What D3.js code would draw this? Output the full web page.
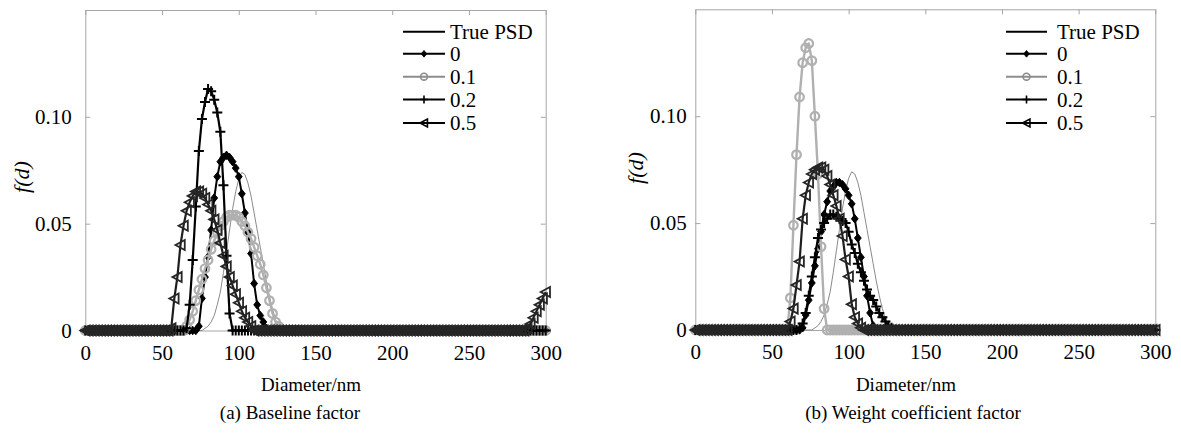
<!DOCTYPE html>
<html><head><meta charset="utf-8">
<script src="https://cdn.jsdelivr.net/npm/d3@7"></script>
<style>body{margin:0;background:#fff}svg{display:block}text{font-family:"Liberation Serif","Times New Roman",serif;fill:#000}</style>
</head><body><svg id="c" width="1181" height="433"></svg>
<script>
// sample grid (nm)
const diameters = d3.range(0, 301, 2);
const seriesNames = ["True PSD", "0", "0.1", "0.2", "0.5"];
const xTicks = [0, 50, 100, 150, 200, 250, 300];
const yTicks = [0, 0.05, 0.10];
const yTickLabels = ["0", "0.05", "0.10"];

// each row = 10 samples (20 nm), last value = 300 nm
const truePSD = [
0,0,0,0,0,0,0,0,0,0,
0,0,0,0,0,0,0,0,0,0,
0,0,0,0,0,0,0,0,0,0,
0,0,0,0,0,0,0,0,0,0.001,
0.002,0.004,0.007,0.012,0.018,0.027,0.037,0.047,0.057,0.065,
0.071,0.074,0.073,0.069,0.063,0.055,0.047,0.039,0.031,0.023,
0.016,0.010,0.005,0.002,0,0,0,0,0,0,
0,0,0,0,0,0,0,0,0,0,
0,0,0,0,0,0,0,0,0,0,
0,0,0,0,0,0,0,0,0,0,
0,0,0,0,0,0,0,0,0,0,
0,0,0,0,0,0,0,0,0,0,
0,0,0,0,0,0,0,0,0,0,
0,0,0,0,0,0,0,0,0,0,
0,0,0,0,0,0,0,0,0,0,
0];

// (a) Baseline factor
const baseline0 = [
0,0,0,0,0,0,0,0,0,0,
0,0,0,0,0,0,0,0,0,0,
0,0,0,0,0,0,0,0,0,0,
0,0,0,0,0,0,0,0.002,0.015,0.025,
0.0345,0.047,0.062,0.072,0.079,0.081,0.082,0.081,0.079,0.076,
0.072,0.064,0.055,0.046,0.036,0.022,0.012,0.007,0.004,0.001,
0,0,0,0,0,0,0,0,0,0,
0,0,0,0,0,0,0,0,0,0,
0,0,0,0,0,0,0,0,0,0,
0,0,0,0,0,0,0,0,0,0,
0,0,0,0,0,0,0,0,0,0,
0,0,0,0,0,0,0,0,0,0,
0,0,0,0,0,0,0,0,0,0,
0,0,0,0,0,0,0,0,0,0,
0,0,0,0,0,0,0,0,0,0,
0];
const baseline01 = [
0,0,0,0,0,0,0,0,0,0,
0,0,0,0,0,0,0,0,0,0,
0,0,0,0,0,0,0,0,0,0,
0,0,0,0.002,0.005,0.009,0.014,0.019,0.024,0.029,
0.033,0.038,0.042,0.046,0.049,0.051,0.053,0.054,0.054,0.054,
0.053,0.051,0.049,0.046,0.043,0.039,0.035,0.031,0.026,0.020,
0.014,0.008,0.004,0.002,0,0,0,0,0,0,
0,0,0,0,0,0,0,0,0,0,
0,0,0,0,0,0,0,0,0,0,
0,0,0,0,0,0,0,0,0,0,
0,0,0,0,0,0,0,0,0,0,
0,0,0,0,0,0,0,0,0,0,
0,0,0,0,0,0,0,0,0,0,
0,0,0,0,0,0,0,0,0,0,
0,0,0,0,0,0,0,0,0,0,
0];
const baseline02 = [
0,0,0,0,0,0,0,0,0,0,
0,0,0,0,0,0,0,0,0,0,
0,0,0,0,0,0,0,0,0,0,
0,0,0,0.001,0.012,0.033,0.058,0.084,0.099,0.107,
0.113,0.112,0.108,0.102,0.093,0.068,0.035,0.008,0,0,
0,0,0,0,0,0,0,0,0,0,
0,0,0,0,0,0,0,0,0,0,
0,0,0,0,0,0,0,0,0,0,
0,0,0,0,0,0,0,0,0,0,
0,0,0,0,0,0,0,0,0,0,
0,0,0,0,0,0,0,0,0,0,
0,0,0,0,0,0,0,0,0,0,
0,0,0,0,0,0,0,0,0,0,
0,0,0,0,0,0,0,0,0,0,
0,0,0,0,0,0,0,0,0,0,
0];
const baseline05 = [
0,0,0,0,0,0,0,0,0,0,
0,0,0,0,0,0,0,0,0,0,
0,0,0,0,0,0,0,0,0.001,0.015,
0.025,0.040,0.049,0.056,0.060,0.063,0.065,0.065,0.064,0.062,
0.059,0.056,0.052,0.047,0.041,0.035,0.030,0.025,0.021,0.017,
0.013,0.009,0.006,0.004,0.002,0,0,0,0,0,
0,0,0,0,0,0,0,0,0,0,
0,0,0,0,0,0,0,0,0,0,
0,0,0,0,0,0,0,0,0,0,
0,0,0,0,0,0,0,0,0,0,
0,0,0,0,0,0,0,0,0,0,
0,0,0,0,0,0,0,0,0,0,
0,0,0,0,0,0,0,0,0,0,
0,0,0,0,0,0,0,0,0,0,
0,0,0,0,0.001,0.003,0.006,0.009,0.012,0.015,
0.018];

// (b) Weight coefficient factor
const weight0 = [
0,0,0,0,0,0,0,0,0,0,
0,0,0,0,0,0,0,0,0,0,
0,0,0,0,0,0,0,0,0,0,
0,0,0,0,0,0.001,0.007,0.014,0.022,0.030,
0.038,0.046,0.054,0.060,0.065,0.067,0.069,0.069,0.068,0.066,
0.063,0.059,0.052,0.043,0.034,0.025,0.016,0.008,0.002,0,
0,0,0,0,0,0,0,0,0,0,
0,0,0,0,0,0,0,0,0,0,
0,0,0,0,0,0,0,0,0,0,
0,0,0,0,0,0,0,0,0,0,
0,0,0,0,0,0,0,0,0,0,
0,0,0,0,0,0,0,0,0,0,
0,0,0,0,0,0,0,0,0,0,
0,0,0,0,0,0,0,0,0,0,
0,0,0,0,0,0,0,0,0,0,
0];
const weight01 = [
0,0,0,0,0,0,0,0,0,0,
0,0,0,0,0,0,0,0,0,0,
0,0,0,0,0,0,0,0,0,0,
0,0.015,0.049,0.082,0.109,0.125,0.132,0.134,0.126,0.100,
0.073,0.039,0.010,0,0,0,0,0,0,0,
0,0,0,0,0,0,0,0,0,0,
0,0,0,0,0,0,0,0,0,0,
0,0,0,0,0,0,0,0,0,0,
0,0,0,0,0,0,0,0,0,0,
0,0,0,0,0,0,0,0,0,0,
0,0,0,0,0,0,0,0,0,0,
0,0,0,0,0,0,0,0,0,0,
0,0,0,0,0,0,0,0,0,0,
0,0,0,0,0,0,0,0,0,0,
0,0,0,0,0,0,0,0,0,0,
0];
const weight02 = [
0,0,0,0,0,0,0,0,0,0,
0,0,0,0,0,0,0,0,0,0,
0,0,0,0,0,0,0,0,0,0,
0,0,0,0,0.001,0.003,0.008,0.016,0.025,0.034,
0.043,0.047,0.050,0.052,0.054,0.054,0.053,0.052,0.051,0.050,
0.046,0.040,0.036,0.031,0.027,0.023,0.019,0.016,0.014,0.011,
0.008,0.006,0.004,0.002,0.001,0,0,0,0,0,
0,0,0,0,0,0,0,0,0,0,
0,0,0,0,0,0,0,0,0,0,
0,0,0,0,0,0,0,0,0,0,
0,0,0,0,0,0,0,0,0,0,
0,0,0,0,0,0,0,0,0,0,
0,0,0,0,0,0,0,0,0,0,
0,0,0,0,0,0,0,0,0,0,
0,0,0,0,0,0,0,0,0,0,
0];
const weight05 = [
0,0,0,0,0,0,0,0,0,0,
0,0,0,0,0,0,0,0,0,0,
0,0,0,0,0,0,0,0,0,0,
0,0.004,0.010,0.021,0.032,0.052,0.063,0.069,0.073,0.075,
0.076,0.076,0.075,0.072,0.068,0.063,0.058,0.052,0.044,0.033,
0.025,0.012,0.006,0.003,0.001,0,0,0,0,0,
0,0,0,0,0,0,0,0,0,0,
0,0,0,0,0,0,0,0,0,0,
0,0,0,0,0,0,0,0,0,0,
0,0,0,0,0,0,0,0,0,0,
0,0,0,0,0,0,0,0,0,0,
0,0,0,0,0,0,0,0,0,0,
0,0,0,0,0,0,0,0,0,0,
0,0,0,0,0,0,0,0,0,0,
0,0,0,0,0,0,0,0,0,0,
0];

const styles = [
  {stroke: "#8a8a8a", width: 1, marker: null, legStroke: "#000", legWidth: 2},
  {stroke: "#000", width: 2, marker: "diamond", mStroke: "#000", mFill: "#000", mw: 1, legStroke: "#000", legWidth: 2},
  {stroke: "#b0b0b0", width: 2.4, marker: "circle", mStroke: "#b0b0b0", mFill: "none", mw: 2.2, legStroke: "#8c8c8c", legWidth: 2},
  {stroke: "#000", width: 2.2, marker: "plus", mStroke: "#000", mFill: "none", mw: 2, legStroke: "#000", legWidth: 2},
  {stroke: "#1e1e1e", width: 2.2, marker: "triangle", mStroke: "#262626", mFill: "none", mw: 1.8, legStroke: "#000", legWidth: 2}
];
const markerPaths = {
  diamond: "M0,-4.2L3.4,0L0,4.2L-3.4,0Z",
  circle: "M-4.3,0A4.3,4.3 0 1,0 4.3,0A4.3,4.3 0 1,0 -4.3,0Z",
  plus: "M-5,0H5M0,-5V5",
  triangle: "M-5,0L4.3,-5L4.3,5Z"
};

const panels = [
  {x0: 85.3, x1: 545.7, y0: 330.5, yTop: 10, series: [truePSD, baseline0, baseline01, baseline02, baseline05],
   yPad: 13.5, ylab: [21, 177], leg: {l0: 403, l1: 445, tx: 450}, xlab: [311, 391], cap: [290, 419, "(a) Baseline factor"]},
  {x0: 695.3, x1: 1155.3, y0: 330, yTop: 9.3, series: [truePSD, weight0, weight01, weight02, weight05],
   yPad: 8.6, ylab: [635, 168], leg: {l0: 1006, l1: 1047, tx: 1057}, xlab: [906, 391], cap: [913, 419, "(b) Weight coefficient factor"]}
];
const legendRows = [31.7, 53.8, 76.7, 99.5, 123];

const svg = d3.select("#c");
const FONT = "Liberation Serif";

panels.forEach(p => {
  const x = d3.scaleLinear().domain([0, 300]).range([p.x0, p.x1]);
  const y = d3.scaleLinear().domain([0, 0.15]).range([p.y0, p.yTop]);
  const g = svg.append("g");

  const styleAxis = (sel) => {
    sel.selectAll(".domain").attr("stroke", "#a6a6a6").attr("stroke-width", 1);
    sel.selectAll(".tick line").attr("stroke", "#a6a6a6").attr("stroke-width", 1);
    sel.attr("font-family", FONT).attr("font-size", 21);
    sel.selectAll(".tick text").attr("fill", "#000");
  };
  g.append("g").attr("transform", `translate(${p.x0},0)`)
    .call(d3.axisLeft(y).tickValues(yTicks).tickFormat((d, i) => yTickLabels[i]).tickSizeInner(-5).tickSizeOuter(0).tickPadding(p.yPad))
    .call(styleAxis);
  g.append("g").attr("transform", `translate(${p.x1},0)`)
    .call(d3.axisRight(y).tickValues(yTicks).tickFormat("").tickSizeInner(-5).tickSizeOuter(0))
    .call(styleAxis);
  g.append("g").attr("transform", `translate(0,${p.yTop})`)
    .call(d3.axisTop(x).tickValues(xTicks).tickFormat("").tickSizeInner(-5).tickSizeOuter(0))
    .call(styleAxis);
  g.append("g").attr("transform", `translate(0,${p.y0})`)
    .call(d3.axisBottom(x).tickValues(xTicks).tickFormat(d3.format("d")).tickSizeInner(-5).tickSizeOuter(0).tickPadding(14.5))
    .call(styleAxis);

  // series
  p.series.forEach((vals, si) => {
    const st = styles[si];
    const pts = diameters.map((d, i) => [d, vals[i]]);
    g.append("path").datum(pts)
      .attr("fill", "none").attr("stroke", st.stroke).attr("stroke-width", st.width)
      .attr("stroke-linejoin", "round")
      .attr("d", d3.line().x(d => x(d[0])).y(d => y(d[1])));
    if (st.marker) {
      g.append("g").selectAll("path").data(pts).join("path")
        .attr("transform", d => `translate(${x(d[0])},${y(d[1])})`)
        .attr("d", markerPaths[st.marker])
        .attr("fill", st.mFill).attr("stroke", st.mStroke)
        .attr("stroke-width", st.mw);
    }
  });

  // legend
  const lg = g.append("g");
  seriesNames.forEach((name, si) => {
    const st = styles[si];
    const ly = legendRows[si];
    lg.append("line").attr("x1", p.leg.l0).attr("x2", p.leg.l1).attr("y1", ly).attr("y2", ly)
      .attr("stroke", st.legStroke).attr("stroke-width", st.legWidth);
    if (st.marker) {
      lg.append("path").attr("transform", `translate(${(p.leg.l0 + p.leg.l1) / 2},${ly}) scale(0.8)`)
        .attr("d", markerPaths[st.marker])
        .attr("fill", st.mFill === "none" ? "none" : st.legStroke)
        .attr("stroke", st.legStroke).attr("stroke-width", st.marker === "diamond" ? 1 : 2);
    }
    lg.append("text").attr("x", p.leg.tx).attr("y", ly).attr("dy", "0.35em")
      .attr("font-size", 21).text(name);
  });

  // axis labels
  g.append("text").attr("transform", `translate(${p.ylab[0]},${p.ylab[1]}) rotate(-90)`)
    .attr("text-anchor", "middle").attr("dy", "0.35em").attr("font-size", 22).attr("font-style", "italic")
    .text("f(d)");
  g.append("text").attr("x", p.xlab[0]).attr("y", p.xlab[1]).attr("text-anchor", "middle")
    .attr("font-size", 19).text("Diameter/nm");
  g.append("text").attr("x", p.cap[0]).attr("y", p.cap[1]).attr("text-anchor", "middle")
    .attr("font-size", 19).text(p.cap[2]);
});
</script>
</body></html>
